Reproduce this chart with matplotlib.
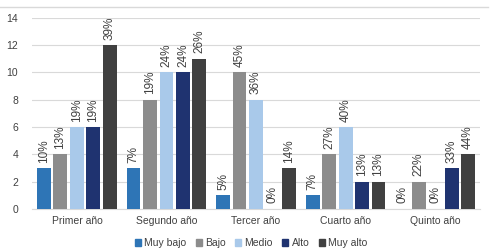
import numpy as np
import matplotlib
matplotlib.use("Agg")
import matplotlib.pyplot as plt
from matplotlib.lines import Line2D

plt.rcParams['font.family'] = ['Liberation Sans', 'DejaVu Sans']

categories = ["Primer año", "Segundo año", "Tercer año", "Cuarto año", "Quinto año"]
series_names = ["Muy bajo", "Bajo", "Medio", "Alto", "Muy alto"]
muy_bajo = [3, 3, 1, 1, 0]
bajo = [4, 8, 10, 4, 2]
medio = [6, 10, 8, 6, 0]
alto = [6, 10, 0, 2, 3]
muy_alto = [12, 11, 3, 2, 4]
pct_muy_bajo = [10, 7, 5, 7, 0]
pct_bajo = [13, 19, 45, 27, 22]
pct_medio = [19, 24, 36, 40, 0]
pct_alto = [19, 24, 0, 13, 33]
pct_muy_alto = [39, 26, 14, 13, 44]

values = [muy_bajo, bajo, medio, alto, muy_alto]
pcts = [pct_muy_bajo, pct_bajo, pct_medio, pct_alto, pct_muy_alto]
colors = ["#2e75b6", "#8c8c8c", "#a9c9ea", "#1f3370", "#404040"]

fig = plt.figure(figsize=(5.02, 2.52), dpi=100)
ax = fig.add_axes([0.064, 0.171, 0.892, 0.758])

x = np.arange(len(categories))
step = 0.184
width = 0.155
for i, (vals, pc, col) in enumerate(zip(values, pcts, colors)):
    pos = x + (i - 2) * step
    ax.bar(pos, vals, width, color=col, zorder=3)
    for xp, v, p in zip(pos, vals, pc):
        ax.text(xp, v + 0.4, f"{p}%", rotation=90, ha="center", va="bottom",
                fontsize=8.5, color="#404040")

ax.set_ylim(0, 14)
ax.set_yticks(range(0, 15, 2))
ax.set_xlim(-0.5, 4.5)
ax.set_xticks(x)
ax.set_xticklabels(categories)
ax.grid(axis="y", color="#d9d9d9", linewidth=0.8, zorder=0)
for s in ["top", "right", "left"]:
    ax.spines[s].set_visible(False)
ax.spines["bottom"].set_color("#d9d9d9")
ax.tick_params(length=0, labelsize=7.5, colors="#404040")
ax.tick_params(axis="y", pad=10)
ax.tick_params(axis="x", pad=5)

fig.add_artist(Line2D([0, 0.972], [0.972, 0.972], color="#d9d9d9", linewidth=1))

handles = [plt.Rectangle((0, 0), 1, 1, color=c) for c in colors]
fig.legend(handles, series_names, loc="center", bbox_to_anchor=(0.5, 0.035),
           ncol=5, frameon=False, fontsize=7.5, handlelength=0.6, handleheight=0.6,
           handletextpad=0.3, columnspacing=0.9, labelcolor="#404040")

fig.savefig("out.png", dpi=100)
